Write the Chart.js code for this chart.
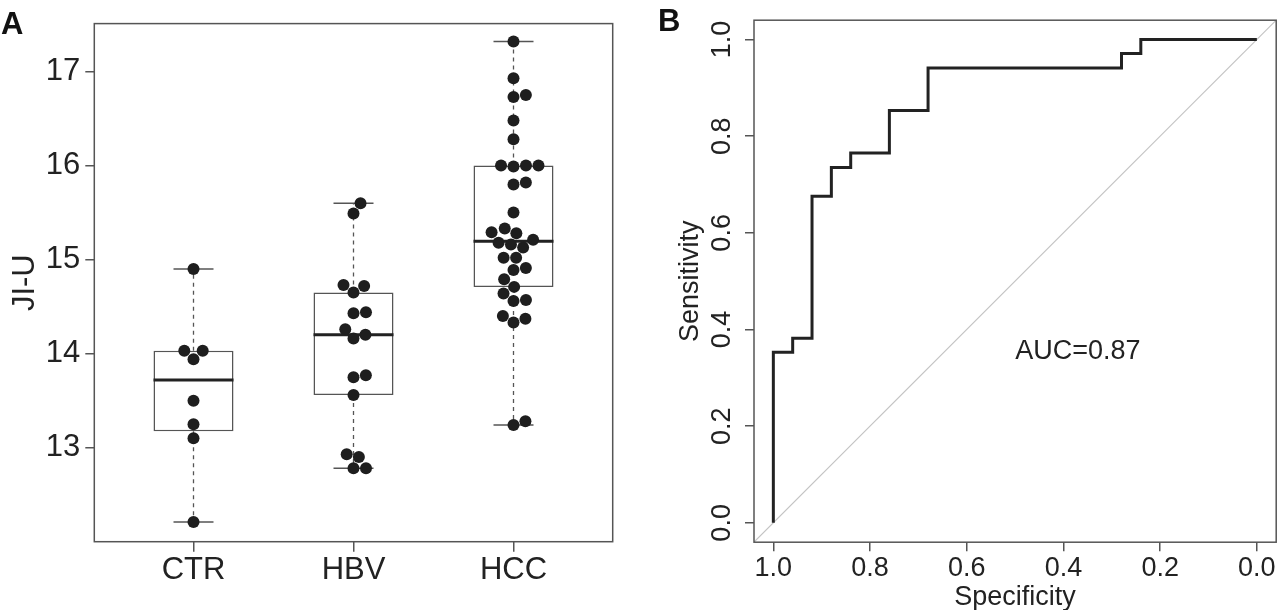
<!DOCTYPE html>
<html>
<head>
<meta charset="utf-8">
<script src="https://cdn.jsdelivr.net/npm/chart.js@4.4.1/dist/chart.umd.min.js"></script>
<style>
  body { margin: 0; background: #fff; }
  #wrap { position: relative; width: 1280px; height: 610px; overflow: hidden; }
  canvas { position: absolute; top: 0; }
  .panel { position: absolute; font: bold 31px 'Liberation Sans', Arial, sans-serif; line-height: 31px; color: #111; }
</style>
</head>
<body>
<div id="wrap">
  <canvas id="boxA" width="640" height="610" style="left:0"></canvas>
  <canvas id="rocB" width="640" height="610" style="left:640px"></canvas>
  <div class="panel" style="left:1px;top:8px">A</div>
  <div class="panel" style="left:658px;top:5px">B</div>
</div>
<script>
// panel A: JI-U per group
const groups = ['CTR', 'HBV', 'HCC'];
const ctrValues = [14.90, 14.03, 14.03, 13.94, 13.50, 13.25, 13.10, 12.21];
const hbvValues = [15.60, 15.49, 14.73, 14.72, 14.65, 14.44, 14.43, 14.26, 14.20, 14.16,
                   13.77, 13.75, 13.56, 12.93, 12.90, 12.78, 12.78];
const hccValues = [17.32, 16.93, 16.75, 16.73, 16.48, 16.28, 16.00, 16.00, 16.00, 15.99,
                   15.82, 15.80, 15.50, 15.33, 15.29, 15.28, 15.21, 15.18, 15.16, 15.13,
                   15.02, 15.02, 14.91, 14.89, 14.79, 14.71, 14.64, 14.57, 14.56, 14.40,
                   14.37, 14.33, 13.28, 13.24];
const groupValues = [ctrValues, hbvValues, hccValues];
const yTicksA = [13, 14, 15, 16, 17];

// panel B: ROC curve corners
const specificity = [1.00, 0.96, 0.92, 0.88, 0.84, 0.76, 0.68, 0.28, 0.24, 0.00];
const sensitivity = [0.000, 0.353, 0.382, 0.676, 0.735, 0.765, 0.853, 0.941, 0.971, 1.000];
const rocTicks = [0, 0.2, 0.4, 0.6, 0.8, 1];
const aucValue = 0.87;

Chart.defaults.font.family = "'Liberation Sans', Arial, sans-serif";
Chart.defaults.color = '#222';
Chart.defaults.animation = false;
Chart.defaults.events = [];
Chart.defaults.plugins.legend.display = false;
Chart.defaults.plugins.tooltip.enabled = false;

const axisGray = '#555';

function fivenum(vals) {
  const x = [...vals].sort((a, b) => a - b);
  const n = x.length;
  const n4 = Math.floor((n + 3) / 2) / 2;
  return [1, n4, (n + 1) / 2, n + 1 - n4, n].map(d => 0.5 * (x[Math.floor(d) - 1] + x[Math.ceil(d) - 1]));
}

function boxStats(vals) {
  const f = fivenum(vals);
  const iqr = f[3] - f[1];
  return {
    q1: f[1], med: f[2], q3: f[3],
    lo: Math.min(...vals.filter(v => v >= f[1] - 1.5 * iqr)),
    hi: Math.max(...vals.filter(v => v <= f[3] + 1.5 * iqr))
  };
}

// beeswarm: place points in ascending order as close to the centre as possible
function swarm(values, pxPerY, d) {
  const order = values.map((v, i) => i).sort((a, b) => values[a] - values[b]);
  const placed = [];
  const out = [];
  order.forEach(i => {
    const y = values[i] * pxPerY;
    const near = placed.filter(p => Math.abs(p.y - y) < d);
    const cands = [0];
    near.forEach(p => {
      const dx = Math.sqrt(d * d - (p.y - y) ** 2);
      cands.push(p.x + dx, p.x - dx);
    });
    const ok = cands.filter(c => near.every(p => Math.hypot(c - p.x, y - p.y) > d - 0.01));
    ok.sort((a, b) => Math.abs(a) - Math.abs(b));
    out[i] = ok[0];
    placed.push({ x: ok[0], y });
  });
  return out;
}

const stats = groupValues.map(boxStats);

const medianPts = [], whiskerPts = [], capPts = [];
stats.forEach((s, i) => {
  const g = i + 1;
  medianPts.push({ x: g - 0.25, y: s.med }, { x: g + 0.25, y: s.med }, { x: g, y: null });
  whiskerPts.push({ x: g, y: s.q3 }, { x: g, y: s.hi }, { x: g, y: null },
                  { x: g, y: s.q1 }, { x: g, y: s.lo }, { x: g, y: null });
  capPts.push({ x: g - 0.125, y: s.hi }, { x: g + 0.125, y: s.hi }, { x: g, y: null },
              { x: g - 0.125, y: s.lo }, { x: g + 0.125, y: s.lo }, { x: g, y: null });
});

const framePlugin = {
  id: 'frame',
  afterDraw(chart) {
    const { ctx, chartArea: a } = chart;
    ctx.save();
    ctx.strokeStyle = axisGray;
    ctx.lineWidth = 1.5;
    ctx.strokeRect(a.left, a.top, a.right - a.left, a.bottom - a.top);
    ctx.restore();
  }
};

const tickGrid = { drawOnChartArea: false, drawTicks: true, tickLength: 9, color: axisGray, lineWidth: 1.5, offset: false };

const chartA = new Chart(document.getElementById('boxA'), {
  type: 'scatter',
  data: {
    datasets: [
      { type: 'scatter', data: [], pointRadius: 6, pointBackgroundColor: '#1e1e1e', pointBorderWidth: 0, order: 0 },
      { type: 'line', data: medianPts, borderColor: '#222', borderWidth: 3, pointRadius: 0, order: 1 },
      { type: 'line', data: whiskerPts, borderColor: axisGray, borderWidth: 1.3, borderDash: [4, 4], pointRadius: 0, order: 2 },
      { type: 'line', data: capPts, borderColor: axisGray, borderWidth: 1.5, pointRadius: 0, order: 2 },
      {
        type: 'bar', data: stats.map((s, i) => ({ x: i + 1, y: [s.q1, s.q3] })),
        backgroundColor: '#fff', borderColor: axisGray, borderWidth: 1.5, borderSkipped: false,
        barPercentage: 0.5, categoryPercentage: 1, order: 3
      }
    ]
  },
  options: {
    responsive: false,
    devicePixelRatio: 1,
    layout: { padding: { left: 0, right: 27.3, top: 22.7, bottom: 0 } },
    scales: {
      x: {
        type: 'linear', min: 0.38, max: 3.62, offset: false,
        afterBuildTicks: s => { s.ticks = groups.map((g, i) => ({ value: i + 1 })); },
        afterFit: s => { s.height = 68.3; },
        ticks: { callback: v => groups[v - 1], font: { size: 31 }, padding: 0, maxRotation: 0, autoSkip: false },
        grid: { ...tickGrid, tickLength: 10 },
        border: { display: false }
      },
      y: {
        type: 'linear', min: 12.0, max: 17.51,
        afterBuildTicks: s => { s.ticks = yTicksA.map(v => ({ value: v })); },
        afterFit: s => { s.width = 94.3; },
        ticks: { font: { size: 31 }, padding: 5 },
        grid: tickGrid,
        border: { display: false },
        title: { display: true, text: 'JI-U', font: { size: 31 }, padding: { top: 7, bottom: 0 } }
      }
    }
  },
  plugins: [framePlugin]
});

// swarm offsets need the pixel size of one unit on each axis
const sx = chartA.scales.x, sy = chartA.scales.y;
const pxX = sx.getPixelForValue(2) - sx.getPixelForValue(1);
const pxY = sy.getPixelForValue(13) - sy.getPixelForValue(14);
chartA.data.datasets[0].data = groupValues.flatMap((vals, gi) => {
  const off = swarm(vals, pxY, 12.5);
  return vals.map((v, k) => ({ x: gi + 1 + off[k] / pxX, y: v }));
});
chartA.update('none');

// ROC: go up at each specificity, then across to the next one
const rocPath = [];
specificity.forEach((s, i) => {
  if (i > 0) rocPath.push({ x: specificity[i - 1], y: sensitivity[i] });
  rocPath.push({ x: s, y: sensitivity[i] });
});
const rocMin = -0.04, rocMax = 1.04;
const aucLabelAt = { spec: 0.37, sens: 0.355 };

const aucPlugin = {
  id: 'aucText',
  afterDatasetsDraw(chart) {
    const { ctx, scales } = chart;
    ctx.save();
    ctx.font = "27px 'Liberation Sans', Arial, sans-serif";
    ctx.fillStyle = '#222';
    ctx.textAlign = 'center';
    ctx.textBaseline = 'middle';
    ctx.fillText('AUC=' + aucValue.toFixed(2), scales.x.getPixelForValue(aucLabelAt.spec), scales.y.getPixelForValue(aucLabelAt.sens));
    ctx.restore();
  }
};

new Chart(document.getElementById('rocB'), {
  type: 'scatter',
  data: {
    datasets: [
      { type: 'line', data: rocPath, borderColor: '#222', borderWidth: 3, pointRadius: 0, order: 0 },
      {
        type: 'line', data: [{ x: rocMax, y: 1 - rocMax }, { x: rocMin, y: 1 - rocMin }],
        borderColor: '#c4c4c4', borderWidth: 1.2, pointRadius: 0, order: 1
      }
    ]
  },
  options: {
    responsive: false,
    devicePixelRatio: 1,
    layout: { padding: { left: 0, right: 3.8, top: 19, bottom: 0 } },
    scales: {
      x: {
        type: 'linear', reverse: true, min: rocMin, max: rocMax,
        afterBuildTicks: s => { s.ticks = rocTicks.map(v => ({ value: v })); },
        afterFit: s => { s.height = 67.8; },
        ticks: { callback: v => v.toFixed(1), font: { size: 27 }, padding: 1, maxRotation: 0, autoSkip: false },
        grid: tickGrid,
        border: { display: false },
        title: { display: true, text: 'Specificity', font: { size: 27 }, padding: { top: 0, bottom: -4 } }
      },
      y: {
        type: 'linear', min: rocMin, max: rocMax,
        afterBuildTicks: s => { s.ticks = rocTicks.map(v => ({ value: v })); },
        afterFit: s => { s.width = 114; },
        ticks: { callback: v => v.toFixed(1), font: { size: 27 }, padding: 4, minRotation: 90, maxRotation: 90, crossAlign: 'center' },
        grid: tickGrid,
        border: { display: false },
        title: { display: true, text: 'Sensitivity', font: { size: 27 }, padding: { top: 34, bottom: 0 } }
      }
    }
  },
  plugins: [framePlugin, aucPlugin]
});
</script>
</body>
</html>
